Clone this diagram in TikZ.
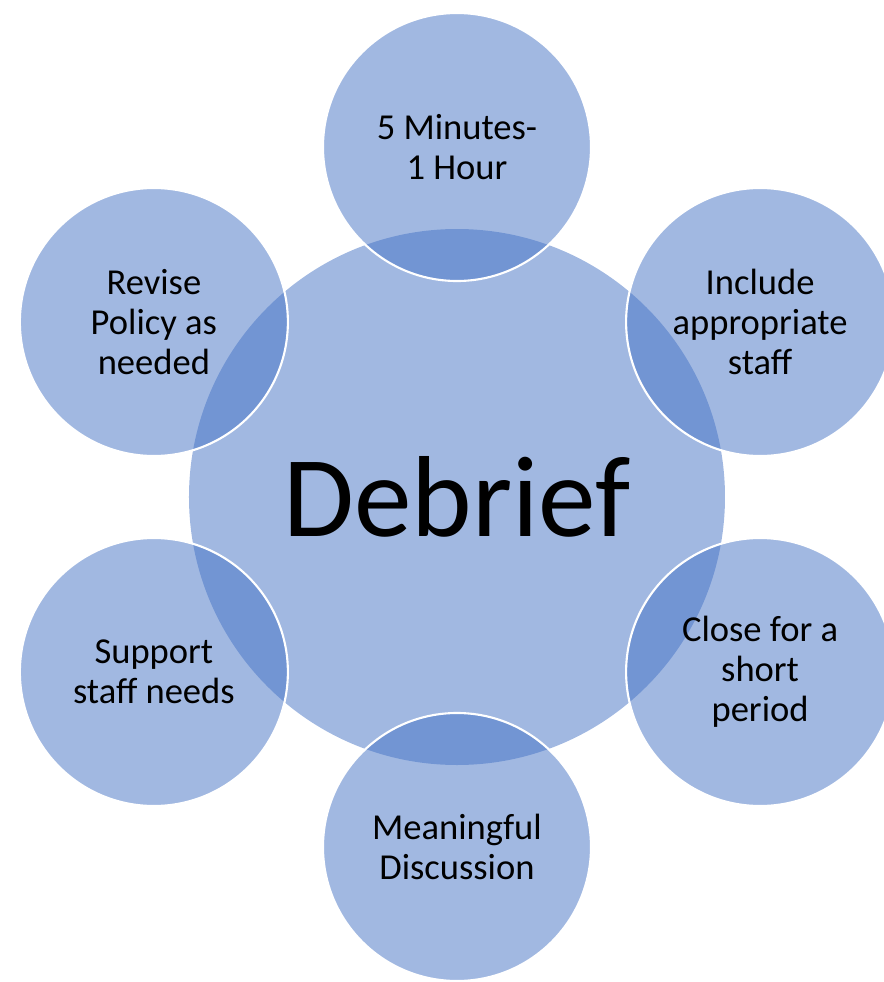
\documentclass[tikz,border=0pt]{standalone}
\usepackage{fontspec}
\setmainfont{Carlito}

\begin{document}
\begin{tikzpicture}
\definecolor{accent}{RGB}{68,114,196}
\tikzset{
  hub/.style={circle,inner sep=0pt,minimum size=13.4cm,fill=accent,
    fill opacity=0.5,text opacity=1,font=\fontsize{82}{90}\selectfont},
  spoke/.style={circle,inner sep=0pt,minimum size=6.7cm,fill=accent,
    fill opacity=0.5,text opacity=1,draw=white,line width=1.5pt,
    align=center,font=\fontsize{26}{28.5}\selectfont}
}

% Page frame, the right-hand circles run past its edge.
\useasboundingbox (-11.425,-12.125) rectangle (10.675,12.425);

% Central circle.
\node[hub] (debrief) at (0,0) {Debrief};

% Six circles round it, one every 60 degrees.
\node[spoke] (minutes) at (90:8.75) {5 Minutes-\\1 Hour};
\node[spoke] (staff) at (30:8.75) {Include\\appropriate\\staff};
\node[spoke] (close) at (-30:8.75) {Close for a\\short\\period};
\node[spoke] (discussion) at (-90:8.75) {Meaningful\\Discussion};
\node[spoke] (support) at (-150:8.75) {Support\\staff needs};
\node[spoke] (policy) at (150:8.75) {Revise\\Policy as\\needed};

\end{tikzpicture}
\end{document}
